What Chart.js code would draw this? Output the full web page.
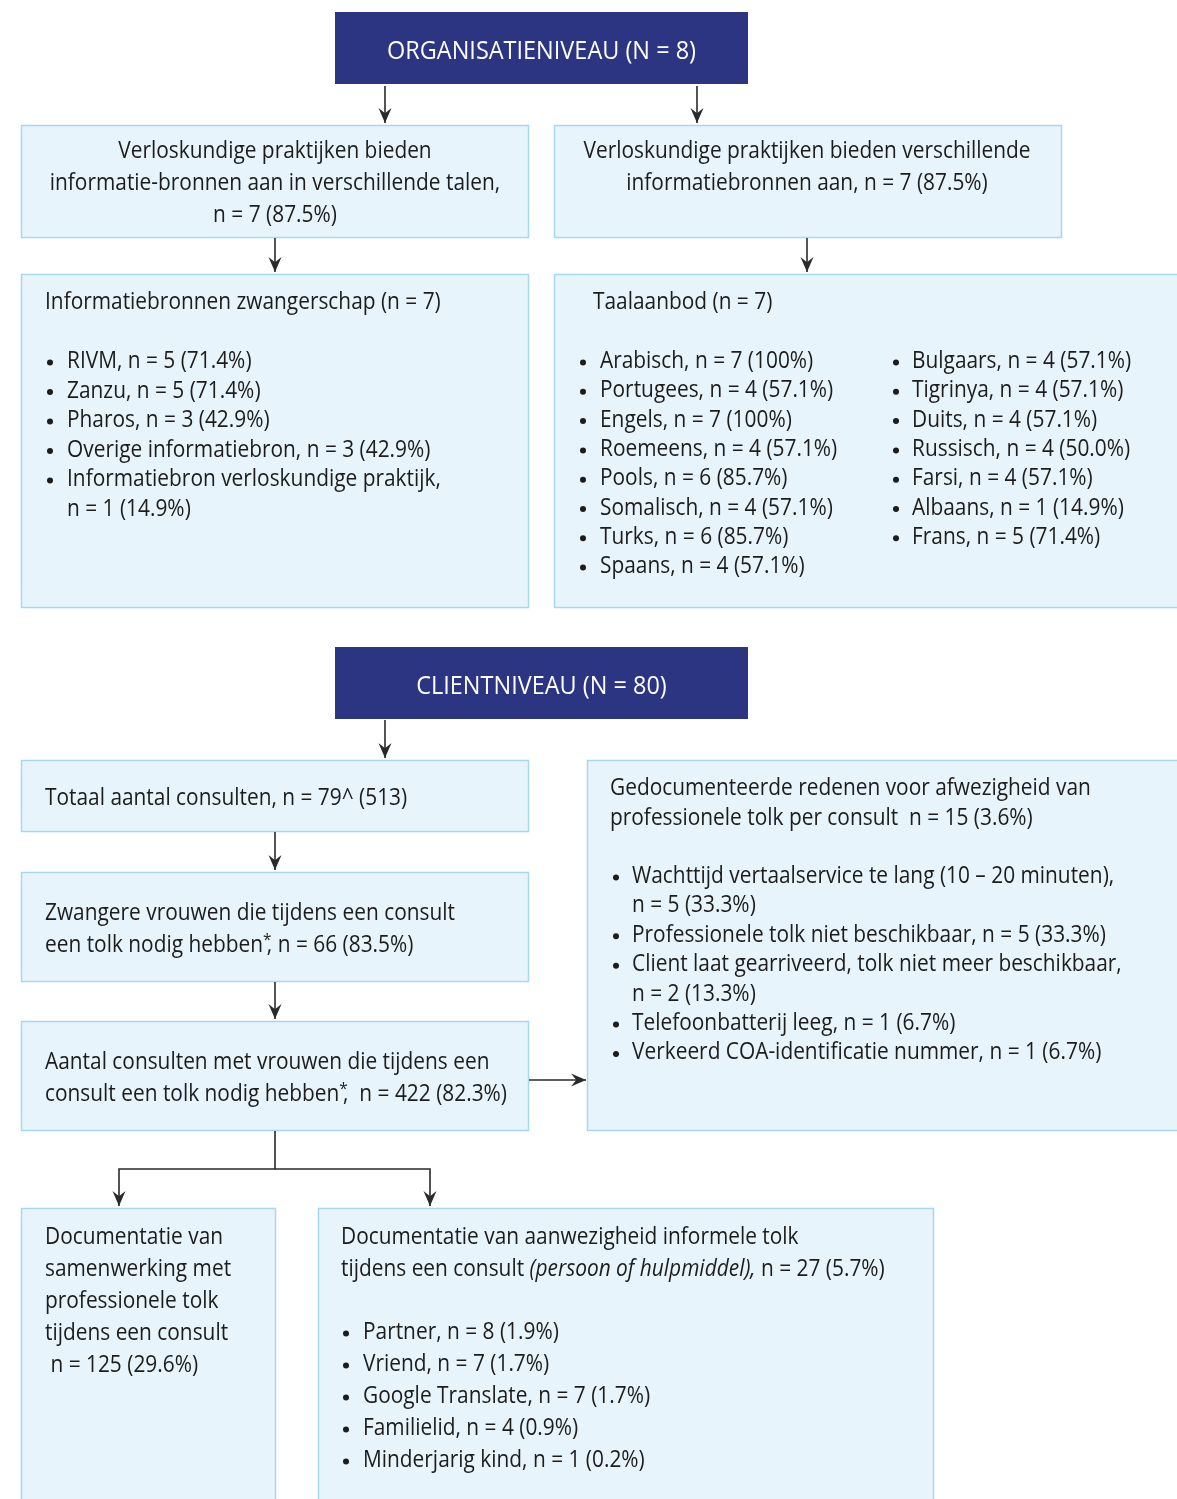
<!DOCTYPE html>
<html><head><meta charset="utf-8">
<script src="https://cdn.jsdelivr.net/npm/chart.js@4"></script>
<style>html,body{margin:0;padding:0;background:#fff}canvas{display:block}</style>
</head><body>
<canvas id="c" width="1177" height="1499"></canvas>
<script>
// ---------- content (data) ----------
const headerOrg = "ORGANISATIENIVEAU (N = 8)";
const headerClient = "CLIENTNIVEAU (N = 80)";
const langOfferText = ["Verloskundige praktijken bieden", "informatie-bronnen aan in verschillende talen,", "n = 7 (87.5%)"];
const sourcesOfferText = ["Verloskundige praktijken bieden verschillende", "informatiebronnen aan, n = 7 (87.5%)"];
const infoTitle = "Informatiebronnen zwangerschap (n = 7)";
const infoItems = [
  ["RIVM, n = 5 (71.4%)"],
  ["Zanzu, n = 5 (71.4%)"],
  ["Pharos, n = 3 (42.9%)"],
  ["Overige informatiebron, n = 3 (42.9%)"],
  ["Informatiebron verloskundige praktijk,", "n = 1 (14.9%)"]
];
const langTitle = "Taalaanbod (n = 7)";
const langCol1 = ["Arabisch, n = 7 (100%)", "Portugees, n = 4 (57.1%)", "Engels, n = 7 (100%)", "Roemeens, n = 4 (57.1%)", "Pools, n = 6 (85.7%)", "Somalisch, n = 4 (57.1%)", "Turks, n = 6 (85.7%)", "Spaans, n = 4 (57.1%)"];
const langCol2 = ["Bulgaars, n = 4 (57.1%)", "Tigrinya, n = 4 (57.1%)", "Duits, n = 4 (57.1%)", "Russisch, n = 4 (50.0%)", "Farsi, n = 4 (57.1%)", "Albaans, n = 1 (14.9%)", "Frans, n = 5 (71.4%)"];
const totalText = ["Totaal aantal consulten, n = 79^ (513)"];
const pregnantText = ["Zwangere vrouwen die tijdens een consult", "een tolk nodig hebben*, n = 66 (83.5%)"];
const consultsText = ["Aantal consulten met vrouwen die tijdens een", "consult een tolk nodig hebben*,  n = 422 (82.3%)"];
const reasonsTitle = ["Gedocumenteerde redenen voor afwezigheid van", "professionele tolk per consult  n = 15 (3.6%)"];
const reasonsItems = [
  ["Wachttijd vertaalservice te lang (10 \u2013 20 minuten),", "n = 5 (33.3%)"],
  ["Professionele tolk niet beschikbaar, n = 5 (33.3%)"],
  ["Client laat gearriveerd, tolk niet meer beschikbaar,", "n = 2 (13.3%)"],
  ["Telefoonbatterij leeg, n = 1 (6.7%)"],
  ["Verkeerd COA-identificatie nummer, n = 1 (6.7%)"]
];
const professionalText = ["Documentatie van", "samenwerking met", "professionele tolk", "tijdens een consult", " n = 125 (29.6%)"];
const informalTitle = ["Documentatie van aanwezigheid informele tolk", "tijdens een consult _(persoon of hulpmiddel),_ n = 27 (5.7%)"];
const informalItems = ["Partner, n = 8 (1.9%)", "Vriend, n = 7 (1.7%)", "Google Translate, n = 7 (1.7%)", "Familielid, n = 4 (0.9%)", "Minderjarig kind, n = 1 (0.2%)"];

// ---------- layout & style ----------
const FONT = "'Open Sans', 'Noto Sans', sans-serif";
const TEXT_SIZE = 23, HEAD_SIZE = 26, DY = 1.5;
const COL = {head:'#2b3582', fill:'#e7f4fc', border:'#a6d8ef', text:'#1c1c1c', line:'#2a2a2a'};

const layout = {
  headers: [
    {box:[335,12,748,84], cy:50, text:headerOrg},
    {box:[335,647,748,719], cy:685, text:headerClient}
  ],
  boxes: [
    [21,125,528,237],[554,125,1061,237],[21,274,528,607],[554,274,1180,607],
    [21,760,528,831],[21,872,528,981],[21,1021,528,1130],[587,760,1180,1130],
    [21,1208,275,1505],[318,1208,933,1505]
  ],
  arrows: [
    {pts:[[385,86],[385,123]], head:true},
    {pts:[[697,86],[697,123]], head:true},
    {pts:[[275,238],[275,272]], head:true},
    {pts:[[807,238],[807,272]], head:true},
    {pts:[[385,720],[385,758]], head:true},
    {pts:[[275,832],[275,870]], head:true},
    {pts:[[275,982],[275,1019]], head:true},
    {pts:[[529,1080],[586,1080]], head:true},
    {pts:[[275,1131],[275,1169],[119,1169],[119,1206]], head:true},
    {pts:[[275,1169],[430,1169],[430,1206]], head:true}
  ]
};

function richSegments(s){
  const segs=[]; let italic=false; let buf='';
  for(const ch of s){
    if(ch==='_'){ if(buf) segs.push({t:buf,italic}); buf=''; italic=!italic; }
    else if(ch==='*'){ if(buf) segs.push({t:buf,italic}); buf=''; segs.push({t:'*',italic,sup:true}); }
    else buf+=ch;
  }
  if(buf) segs.push({t:buf,italic});
  return segs;
}

let SX = 1, HSX = 1;

const flowPlugin = {
  id:'flow',
  afterDraw(chart){
    const ctx = chart.ctx, xs = chart.scales.x, ys = chart.scales.y;
    const X = v => xs.getPixelForValue(v), Y = v => ys.getPixelForValue(v);
    ctx.save();
    ctx.font = `${TEXT_SIZE}px ${FONT}`;
    SX = 447 / ctx.measureText("Verloskundige praktijken bieden verschillende").width;
    ctx.font = `${HEAD_SIZE}px ${FONT}`;
    HSX = 309 / ctx.measureText(headerOrg).width;

    function text(str, x, y, align, size, color, sx){
      const segs = richSegments(str);
      const fontOf = (sg)=> `${sg.italic?'italic ':''}${sg.sup?Math.round(size*0.75):size}px ${FONT}`;
      let w = 0;
      segs.forEach(sg=>{ ctx.font=fontOf(sg); w += ctx.measureText(sg.t).width * (sg.sup?0.45:1); });
      let px = X(x); const py = Y(y) + DY;
      if(align==='center') px -= w*sx/2;
      ctx.fillStyle = color; ctx.textBaseline='middle'; ctx.textAlign='left';
      segs.forEach(sg=>{
        ctx.font=fontOf(sg);
        ctx.save(); ctx.translate(px, sg.sup ? py - size*0.22 : py); ctx.scale(sx,1);
        ctx.fillText(sg.t, 0, 0); ctx.restore();
        px += ctx.measureText(sg.t).width * sx * (sg.sup?0.45:1);
      });
    }
    const T = (s,x,y,align='left') => text(s,x,y,align,TEXT_SIZE,COL.text,SX);
    const bullet = (x,y) => { ctx.fillStyle=COL.text; ctx.beginPath(); ctx.arc(X(x),Y(y)+DY+1,3,0,Math.PI*2); ctx.fill(); };

    layout.boxes.forEach(b=>{
      ctx.fillStyle=COL.fill; ctx.fillRect(X(b[0]),Y(b[1]),X(b[2])-X(b[0]),Y(b[3])-Y(b[1]));
      ctx.strokeStyle=COL.border; ctx.lineWidth=1.5;
      ctx.strokeRect(X(b[0])+0.5,Y(b[1])+0.5,X(b[2])-X(b[0]),Y(b[3])-Y(b[1]));
    });
    layout.headers.forEach(h=>{
      const b=h.box;
      ctx.fillStyle=COL.head; ctx.fillRect(X(b[0]),Y(b[1]),X(b[2])-X(b[0]),Y(b[3])-Y(b[1]));
      text(h.text,(b[0]+b[2])/2,h.cy,'center',HEAD_SIZE,'#ffffff',HSX);
    });
    ctx.strokeStyle=COL.line; ctx.fillStyle=COL.line; ctx.lineWidth=1.6;
    layout.arrows.forEach(a=>{
      ctx.beginPath();
      a.pts.forEach((p,i)=>{ const fx=X(p[0]), fy=Y(p[1]); i?ctx.lineTo(fx,fy):ctx.moveTo(fx,fy); });
      ctx.stroke();
      const n=a.pts.length, e=a.pts[n-1], s=a.pts[n-2];
      const ang=Math.atan2(Y(e[1])-Y(s[1]),X(e[0])-X(s[0]));
      const ex=X(e[0]), ey=Y(e[1]);
      if(a.head){
        const L=15, W=6.5;
        ctx.beginPath();
        ctx.moveTo(ex,ey);
        ctx.lineTo(ex-L*Math.cos(ang)+W*Math.sin(ang), ey-L*Math.sin(ang)-W*Math.cos(ang));
        ctx.lineTo(ex-L*0.65*Math.cos(ang), ey-L*0.65*Math.sin(ang));
        ctx.lineTo(ex-L*Math.cos(ang)-W*Math.sin(ang), ey-L*Math.sin(ang)+W*Math.cos(ang));
        ctx.closePath(); ctx.fill();
      }
    });

    langOfferText.forEach((s,i)=>T(s,275,150+i*32,'center'));
    sourcesOfferText.forEach((s,i)=>T(s,807,150+i*32,'center'));

    T(infoTitle,45,301);
    let y=360;
    infoItems.forEach(it=>{ bullet(50,y); it.forEach(s=>{ T(s,67,y); y+=29.5; }); });

    T(langTitle,593,301);
    langCol1.forEach((s,i)=>{ bullet(583,360+i*29.3); T(s,600,360+i*29.3); });
    langCol2.forEach((s,i)=>{ bullet(896,360+i*29.3); T(s,912,360+i*29.3); });

    totalText.forEach((s,i)=>T(s,45,797+i*32));
    pregnantText.forEach((s,i)=>T(s,45,912+i*32));
    consultsText.forEach((s,i)=>T(s,45,1061+i*32));

    reasonsTitle.forEach((s,i)=>T(s,610,787+i*29.5));
    y=875;
    reasonsItems.forEach(it=>{ bullet(616,y); it.forEach(s=>{ T(s,632,y); y+=29.4; }); });

    professionalText.forEach((s,i)=>T(s,45,1236+i*32));
    informalTitle.forEach((s,i)=>T(s,341,1236+i*32));
    informalItems.forEach((s,i)=>{ bullet(346,1331+i*32); T(s,363,1331+i*32); });

    ctx.restore();
  }
};

new Chart(document.getElementById('c'), {
  type:'scatter',
  data:{datasets:[{data:[], pointRadius:0}]},
  options:{
    responsive:false, animation:false,
    layout:{padding:0},
    plugins:{legend:{display:false}, tooltip:{enabled:false}},
    scales:{
      x:{type:'linear', min:0, max:1177, display:false},
      y:{type:'linear', min:0, max:1499, reverse:true, display:false}
    }
  },
  plugins:[flowPlugin]
});
</script>
</body></html>
